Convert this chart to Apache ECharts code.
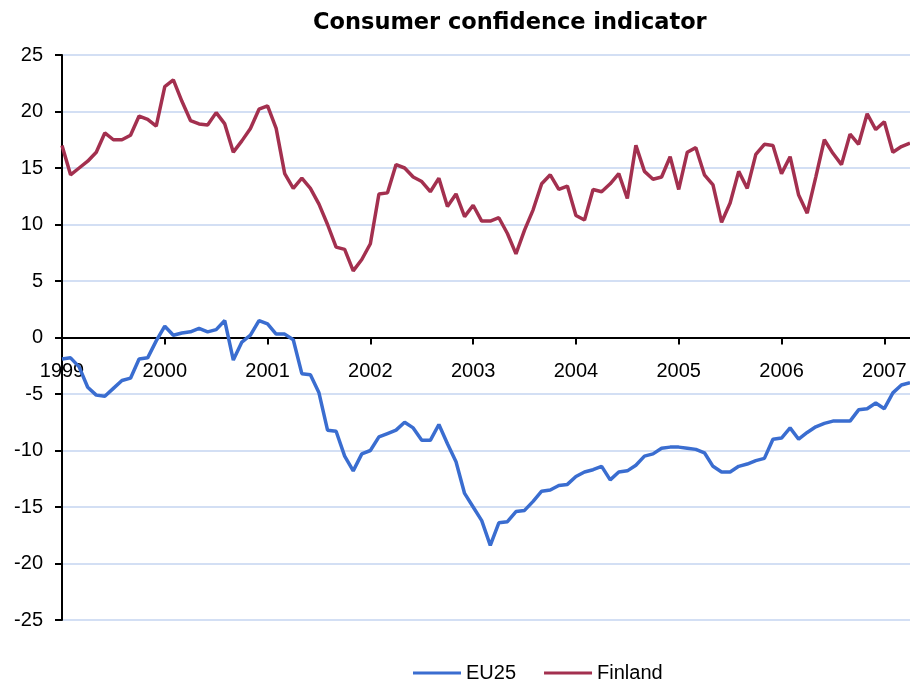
<!DOCTYPE html>
<html>
<head>
<meta charset="utf-8">
<script src="https://cdn.jsdelivr.net/npm/echarts@6/dist/echarts.min.js"></script>
<style>
html, body { margin: 0; padding: 0; background: #fff; }
#main { width: 910px; height: 682px; }
</style>
</head>
<body>
<div id="main"></div>
<script>
// months Jan 1999 .. Apr 2007
var years = ['1999', '2000', '2001', '2002', '2003', '2004', '2005', '2006', '2007']
var months = []
for (var y = 0; y < years.length; y++) {
	for (var mo = 1; mo <= 12; mo++) {
		if (years[y] == '2007' && mo > 4) break
		months.push(years[y] + '-' + (mo < 10 ? '0' + mo : mo))
	}
}

var eu25 = [
	-1.9, -1.8, -2.6, -4.4, -5.1, -5.2, -4.5, -3.8, -3.6, -1.9, -1.8, -0.3,
	1.0, 0.2, 0.4, 0.5, 0.8, 0.5, 0.7, 1.5, -2.0, -0.4, 0.2, 1.5,
	1.2, 0.3, 0.3, -0.2, -3.2, -3.3, -4.9, -8.2, -8.3, -10.5, -11.8, -10.3,
	-10.0, -8.8, -8.5, -8.2, -7.5, -8.0, -9.1, -9.1, -7.7, -9.4, -11.0, -13.8,
	-15.0, -16.2, -18.4, -16.4, -16.3, -15.4, -15.3, -14.5, -13.6, -13.5, -13.1, -13.0,
	-12.3, -11.9, -11.7, -11.4, -12.6, -11.9, -11.8, -11.3, -10.5, -10.3, -9.8, -9.7,
	-9.7, -9.8, -9.9, -10.2, -11.4, -11.9, -11.9, -11.4, -11.2, -10.9, -10.7, -9.0,
	-8.9, -8.0, -9.0, -8.4, -7.9, -7.6, -7.4, -7.4, -7.4, -6.4, -6.3, -5.8,
	-6.3, -4.9, -4.2, -4.0
]

var finland = [
	17.0, 14.4, 15.0, 15.6, 16.4, 18.1, 17.5, 17.5, 17.9, 19.6, 19.3, 18.7,
	22.2, 22.8, 20.9, 19.2, 18.9, 18.8, 19.9, 18.9, 16.4, 17.4, 18.5, 20.2,
	20.5, 18.5, 14.5, 13.2, 14.1, 13.2, 11.8, 10.0, 8.0, 7.8, 5.9, 6.9,
	8.3, 12.7, 12.8, 15.3, 15.0, 14.2, 13.8, 12.9, 14.1, 11.6, 12.7, 10.7,
	11.7, 10.3, 10.3, 10.6, 9.2, 7.4, 9.5, 11.3, 13.6, 14.4, 13.1, 13.4,
	10.8, 10.4, 13.1, 12.9, 13.6, 14.5, 12.3, 17.0, 14.7, 14.0, 14.2, 16.0,
	13.1, 16.4, 16.8, 14.4, 13.5, 10.2, 11.9, 14.7, 13.2, 16.2, 17.1, 17.0,
	14.5, 16.0, 12.6, 11.0, 14.2, 17.5, 16.3, 15.3, 18.0, 17.1, 19.8, 18.4,
	19.1, 16.4, 16.9, 17.2
]

var yTicks = [-25, 25, 5]

var chart = echarts.init(document.getElementById('main'))

// grid 565px high for 50 units -> zero line 282.5px above bottom
var zeroOffset = -282.5

var option = {
	animation: false,
	backgroundColor: '#fff',
	title: {
		text: 'Consumer confidence indicator',
		left: 313,
		top: 12,
		padding: 0,
		textStyle: {
			fontFamily: 'DejaVu Sans',
			fontWeight: 'bold',
			fontSize: 22.5,
			color: '#000'
		}
	},
	legend: {
		left: 408,
		top: 658,
		itemWidth: 48,
		itemHeight: 3,
		itemGap: 28,
		icon: 'rect',
		textStyle: {
			fontFamily: 'Liberation Sans',
			fontSize: 20,
			color: '#000'
		},
		data: ['EU25', 'Finland']
	},
	grid: {
		left: 62,
		top: 55,
		bottom: 62,
		right: -5
	},
	xAxis: {
		type: 'category',
		boundaryGap: false,
		data: months,
		offset: zeroOffset,
		axisLine: {
			onZero: false,
			lineStyle: { color: '#000', width: 2 }
		},
		axisTick: {
			interval: function (i) { return i % 12 == 0 },
			length: 7,
			lineStyle: { color: '#000', width: 2 }
		},
		axisLabel: {
			interval: function (i) { return i % 12 == 0 },
			formatter: function (v) { return v.slice(0, 4) },
			margin: 24,
			fontFamily: 'Liberation Sans',
			fontSize: 20,
			color: '#000'
		},
		splitLine: { show: false }
	},
	yAxis: {
		type: 'value',
		min: yTicks[0],
		max: yTicks[1],
		interval: yTicks[2],
		axisLine: {
			show: true,
			lineStyle: { color: '#000', width: 2 }
		},
		axisTick: {
			show: true,
			length: 7,
			lineStyle: { color: '#000', width: 2 }
		},
		axisLabel: {
			margin: 19,
			fontFamily: 'Liberation Sans',
			fontSize: 20,
			color: '#000'
		},
		splitLine: {
			lineStyle: { color: '#c4d4f0', width: 1.5 }
		}
	},
	series: [
		{
			name: 'EU25',
			type: 'line',
			data: eu25,
			symbol: 'none',
			color: '#3a6dd0',
			lineStyle: { width: 3.5 }
		},
		{
			name: 'Finland',
			type: 'line',
			data: finland,
			symbol: 'none',
			color: '#a3304f',
			lineStyle: { width: 3.5 }
		}
	]
}
chart.setOption(option)
</script>
</body>
</html>
